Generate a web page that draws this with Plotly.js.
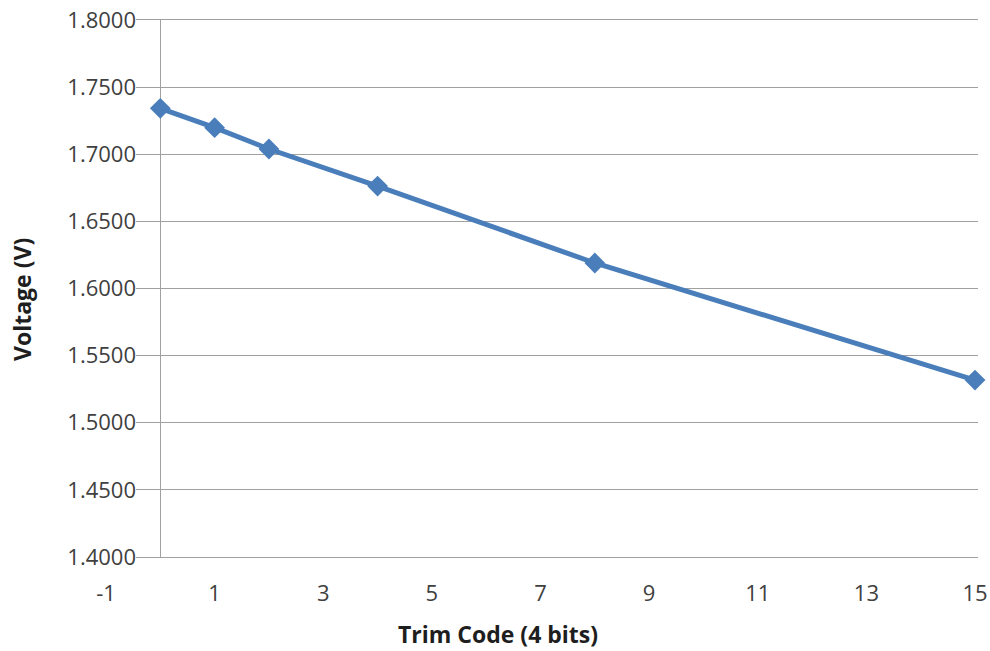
<!DOCTYPE html>
<html>
<head>
<meta charset="utf-8">
<script src="https://cdn.plot.ly/plotly-3.0.1.min.js"></script>
<style>html,body{margin:0;padding:0;background:#fff;}#chart{width:990px;height:651px;}</style>
</head>
<body>
<div id="chart"></div>
<script>
var trimCodes = [0, 1, 2, 4, 8, 15];
var voltages = [1.7342, 1.7198, 1.7039, 1.6763, 1.6190, 1.5318];
var xTickVals = [-1, 1, 3, 5, 7, 9, 11, 13, 15];
var xTickText = ['-1', '1', '3', '5', '7', '9', '11', '13', '15'];
var yTickVals = [1.40, 1.45, 1.50, 1.55, 1.60, 1.65, 1.70, 1.75, 1.80];
var yTickText = ['1.4000', '1.4500', '1.5000', '1.5500', '1.6000', '1.6500', '1.7000', '1.7500', '1.8000'];
var xTitle = 'Trim Code (4 bits)';
var yTitle = 'Voltage (V)';

var lineColor = '#4A7EBB';
var gridColor = '#a0a0a0';
var textColor = '#404040';
var titleColor = '#1e1e1e';
var fontFam = '"Open Sans", Lato, sans-serif';

// overall frame (paper) and x range
var W = 990, H = 651;
var mL = 106, mR = 12, mT = 20, mB = 94;
var plotW = W - mL - mR;
var plotH = H - mT - mB;
var xRange = [-1, 15.055];
var yRange = [1.4, 1.8];
// gridded sub-area begins to the right of the y tick labels
var gridStartPx = 30;
var d0 = gridStartPx / plotW;
var xRange2 = [xRange[0] + d0 * (xRange[1] - xRange[0]), xRange[1]];

function px2paperX(px) { return (px - mL) / plotW; }
function px2paperY(py) { return (H - mB - py) / plotH; }

// empty trace that only establishes the labelled axes (x / y)
var axisHolder = {
  x: [], y: [], xaxis: 'x', yaxis: 'y',
  type: 'scatter', mode: 'markers', hoverinfo: 'skip', showlegend: false
};

var trace = {
  x: trimCodes,
  y: voltages,
  xaxis: 'x2',
  yaxis: 'y2',
  type: 'scatter',
  mode: 'lines+markers',
  line: {color: lineColor, width: 5},
  marker: {symbol: 'diamond', size: 16, color: lineColor},
  cliponaxis: false,
  showlegend: false
};

var layout = {
  width: W,
  height: H,
  margin: {l: mL, r: mR, t: mT, b: mB},
  paper_bgcolor: '#ffffff',
  plot_bgcolor: 'rgba(0,0,0,0)',
  font: {family: fontFam, color: textColor, size: 22},
  xaxis: {
    domain: [0, 1],
    anchor: 'y',
    range: xRange,
    tickvals: xTickVals,
    ticktext: xTickText,
    showgrid: false,
    zeroline: false,
    showline: false,
    ticks: '',
    ticklabelstandoff: 21,
    tickfont: {family: fontFam, size: 22, color: textColor},
    fixedrange: true
  },
  yaxis: {
    domain: [0, 1],
    anchor: 'free',
    position: gridStartPx / plotW,
    range: yRange,
    tickvals: yTickVals,
    ticktext: yTickText,
    showgrid: false,
    zeroline: false,
    showline: false,
    ticks: '',
    tickfont: {family: fontFam, size: 22, color: textColor},
    fixedrange: true
  },
  xaxis2: {
    domain: [d0, 1],
    anchor: 'y2',
    range: xRange2,
    showticklabels: false,
    showgrid: false,
    zeroline: true,
    zerolinecolor: gridColor,
    zerolinewidth: 1,
    showline: true,
    mirror: true,
    linecolor: gridColor,
    linewidth: 1,
    ticks: '',
    fixedrange: true
  },
  yaxis2: {
    domain: [0, 1],
    anchor: 'x2',
    range: yRange,
    tickvals: yTickVals,
    showticklabels: false,
    showgrid: true,
    gridcolor: gridColor,
    gridwidth: 1,
    zeroline: false,
    showline: false,
    ticks: '',
    fixedrange: true
  },
  annotations: [
    {
      text: xTitle, xref: 'paper', yref: 'paper',
      x: px2paperX(498), y: px2paperY(634),
      xanchor: 'center', yanchor: 'middle', showarrow: false,
      font: {family: fontFam, size: 23, color: titleColor, weight: 'bold'}
    },
    {
      text: yTitle, xref: 'paper', yref: 'paper',
      x: px2paperX(22), y: px2paperY(300),
      xanchor: 'center', yanchor: 'middle', showarrow: false, textangle: -90,
      font: {family: fontFam, size: 23, color: titleColor, weight: 'bold'}
    }
  ]
};

Plotly.newPlot('chart', [axisHolder, trace], layout, {displayModeBar: false, staticPlot: true});
</script>
</body>
</html>
